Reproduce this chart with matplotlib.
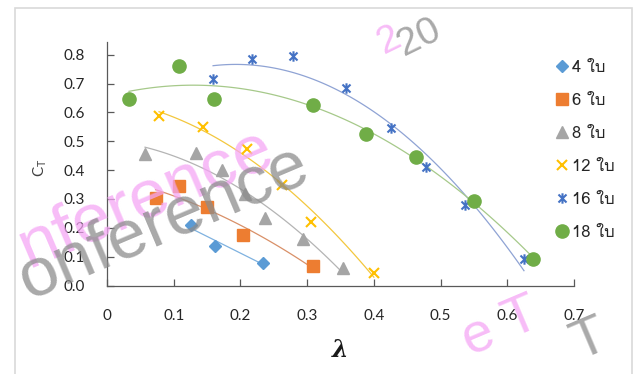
import numpy as np
import matplotlib
matplotlib.use("Agg")
from matplotlib import pyplot as plt
from matplotlib import font_manager, ft2font
from matplotlib.path import Path
from matplotlib.patches import Rectangle

# ค่าที่อ่านจากกราฟ (lambda, CT) ของแต่ละจำนวนใบ
lam_4 = [0.126, 0.162, 0.234]
ct_4 = [0.21, 0.138, 0.079]

lam_6 = [0.073, 0.108, 0.150, 0.204, 0.309]
ct_6 = [0.304, 0.345, 0.272, 0.176, 0.066]

lam_8 = [0.057, 0.133, 0.172, 0.207, 0.237, 0.294, 0.354]
ct_8 = [0.455, 0.46, 0.40, 0.317, 0.234, 0.16, 0.062]

lam_12 = [0.078, 0.144, 0.210, 0.263, 0.306, 0.400]
ct_12 = [0.588, 0.55, 0.472, 0.35, 0.22, 0.045]

lam_16 = [0.159, 0.217, 0.279, 0.358, 0.426, 0.478, 0.536, 0.625]
ct_16 = [0.714, 0.786, 0.797, 0.683, 0.545, 0.41, 0.279, 0.093]

lam_18 = [0.033, 0.108, 0.160, 0.309, 0.388, 0.463, 0.550, 0.639]
ct_18 = [0.648, 0.762, 0.648, 0.626, 0.524, 0.445, 0.293, 0.093]

labels = ["4 ใบ", "6 ใบ", "8 ใบ", "12 ใบ", "16 ใบ", "18 ใบ"]
xticks = [0, 0.1, 0.2, 0.3, 0.4, 0.5, 0.6, 0.7]
xtick_labels = ["0", "0.1", "0.2", "0.3", "0.4", "0.5", "0.6", "0.7"]
yticks = [0.0, 0.1, 0.2, 0.3, 0.4, 0.5, 0.6, 0.7, 0.8]

# หาฟอนต์ที่มีตัวอักษรไทย (ในเครื่องนี้คือ Loma)
thai_font = None
for f in font_manager.fontManager.ttflist:
    try:
        cm = ft2font.FT2Font(f.fname).get_charmap()
    except Exception:
        continue
    if 0x0E43 in cm and 0x0E1A in cm:
        thai_font = f.name
        break
fams = [thai_font, "Lato", "DejaVu Sans"] if thai_font else ["Lato", "DejaVu Sans"]

plt.rcParams["font.family"] = ["Lato", "DejaVu Sans"]

# marker แบบ excel (x + เส้นตั้ง)
star = Path([(-1, -1), (1, 1), (-1, 1), (1, -1), (0, -1.3), (0, 1.3)],
            [Path.MOVETO, Path.LINETO, Path.MOVETO, Path.LINETO, Path.MOVETO, Path.LINETO])

# (x, y, สี marker, สี trendline, ลำดับ polynomial, marker)
series = [
    (lam_4, ct_4, "#5B9BD5", "#7FB2E0", 1, dict(marker="D", ms=6.5)),
    (lam_6, ct_6, "#ED7D31", "#D99068", 2, dict(marker="s", ms=9)),
    (lam_8, ct_8, "#A5A5A5", "#B4B4B4", 2, dict(marker="^", ms=8.5)),
    (lam_12, ct_12, "#FFC000", "#F3C73E", 2, dict(marker="x", ms=7.5, mew=1.5)),
    (lam_16, ct_16, "#4472C4", "#8FA3D4", 2, dict(marker=star, ms=7.5, mew=1.5, mfc="none")),
    (lam_18, ct_18, "#70AD47", "#A6C98A", 2, dict(marker="o", ms=9.5)),
]

fig = plt.figure(figsize=(6.38, 3.74), dpi=100)
ax = fig.add_axes([107 / 638, 1 - 285.5 / 374, 467 / 638, 243.8 / 374])

handles = []
for lam, ct, col, tcol, deg, mk in series:
    p = np.polyfit(lam, ct, deg)
    xx = np.linspace(min(lam), max(lam), 100)
    ax.plot(xx, np.polyval(p, xx), color=tcol, lw=0.9, zorder=2)
    h, = ax.plot(lam, ct, ls="none", color=col, mec=col, zorder=3, **mk)
    handles.append(h)

ax.set_xlim(0, 0.7)
ax.set_ylim(0, 0.845)
ax.set_xticks(xticks)
ax.set_xticklabels(xtick_labels)
ax.set_yticks(yticks)
ax.set_yticklabels([f"{v:.1f}" for v in yticks])
for s in ["top", "right"]:
    ax.spines[s].set_visible(False)
for s in ["left", "bottom"]:
    ax.spines[s].set_color("#595959")
    ax.spines[s].set_linewidth(0.9)
ax.tick_params(direction="in", length=5, width=0.9, color="#595959",
               labelsize=11, labelcolor="#262626")
ax.tick_params(axis="x", pad=17)
ax.tick_params(axis="y", pad=16)

fig.text(40 / 638, 1 - 168 / 374, r"C$_\mathregular{T}$", rotation=90,
         ha="center", va="center", fontsize=11, color="#404040")
fig.text(340 / 638, 1 - 350 / 374, "λ", ha="center", va="center", fontsize=17,
         family="DejaVu Serif", weight="bold", style="italic", color="#1a1a1a")

leg = fig.legend(handles, labels, loc="upper left", bbox_to_anchor=(539 / 638, 1 - 45 / 374),
                 frameon=False, handlelength=0.9, handletextpad=0.2, labelspacing=1.02,
                 prop=dict(family=fams, size=12))
for t in leg.get_texts():
    t.set_color("#262626")

# กรอบของ chart area
fig.patches.append(Rectangle((15 / 638, -0.05), 617 / 638, 1 - 8 / 374 + 0.05,
                             transform=fig.transFigure, fill=False,
                             edgecolor="#D9D9D9", lw=1.2))

# ลายน้ำ (ส่วนที่เห็นในภาพ)
wm = dict(family="Liberation Sans", rotation_mode="anchor", ha="left", va="baseline")
fig.text(28 / 638, 1 - 268 / 374, "nference", rotation=23, fontsize=50,
         color="#F5A6F5", alpha=0.75, zorder=5, **wm)
fig.text(28 / 638, 1 - 300 / 374, "onference", rotation=23, fontsize=50,
         color="#8C8C8C", alpha=0.75, zorder=6, **wm)
fig.text(384 / 638, 1 - 54 / 374, "2", rotation=26, fontsize=28,
         color="#F5A6F5", alpha=0.75, zorder=5, **wm)
fig.text(404 / 638, 1 - 56 / 374, "20", rotation=26, fontsize=28,
         color="#8C8C8C", alpha=0.75, zorder=6, **wm)
fig.text(470 / 638, 1 - 356 / 374, "e T", rotation=23, fontsize=40,
         color="#F5A6F5", alpha=0.75, zorder=5, **wm)
fig.text(580 / 638, 1 - 360 / 374, "T", rotation=23, fontsize=40,
         color="#8C8C8C", alpha=0.75, zorder=6, **wm)

fig.savefig("out.png", dpi=100)
